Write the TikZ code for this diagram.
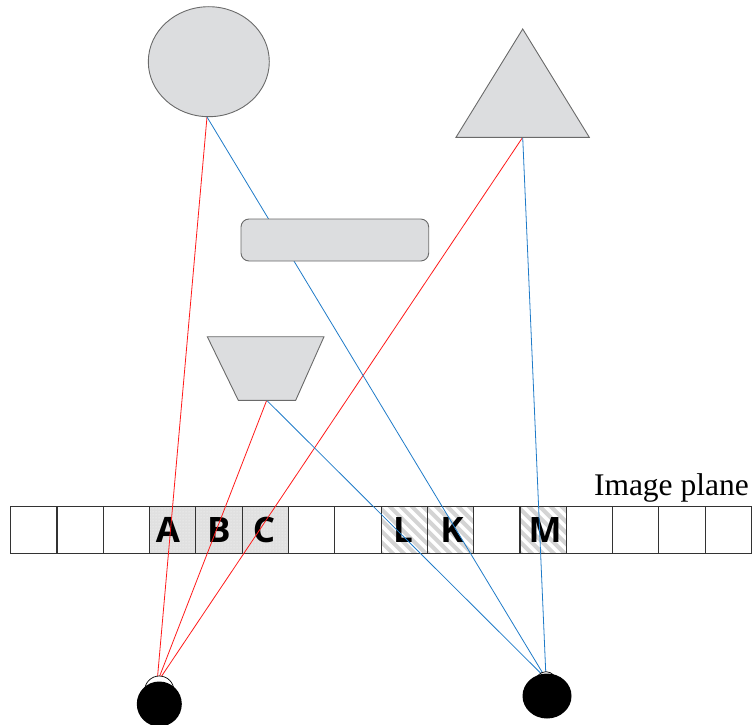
\documentclass[tikz,border=0pt]{standalone}
\usepackage{fontspec}
\usetikzlibrary{patterns,shapes.geometric}
\newfontfamily\labfont{Open Sans}
\newfontfamily\serfont{Liberation Serif}
\definecolor{shapefill}{HTML}{DCDDDF}
\definecolor{shapeedge}{HTML}{6A6A6A}
\definecolor{rayred}{HTML}{FF1A1A}
\definecolor{rayblue}{HTML}{1F7BC8}
\definecolor{dotbg}{HTML}{E0E0E0}
\definecolor{stripe}{HTML}{D4D4D4}
\begin{document}
\begin{tikzpicture}[x=1pt,y=-1pt,
  obj/.style={fill=shapefill,draw=shapeedge,line width=0.9pt},
  cellbox/.style={draw=black!80,line width=1.1pt},
  redray/.style={draw=rayred,line width=0.8pt},
  blueray/.style={draw=rayblue,line width=0.8pt},
  celllab/.style={font=\labfont\bfseries\fontsize{35}{35}\selectfont,inner sep=0pt,anchor=center},
  eyeball/.style={fill=black},
  eyelid/.style={draw=black,line width=0.7pt,fill=white}]
\useasboundingbox (0,0) rectangle (752,725);

% image plane cells
\def\cw{46.3}
\foreach \i in {3,4,5}{
  \fill[dotbg] ({10.7+\cw*\i},506.7) rectangle ++(\cw,46.6);
  \fill[pattern=dots,pattern color=white!85!dotbg] ({10.7+\cw*\i},506.7) rectangle ++(\cw,46.6);
}
\foreach \i in {8,9,11}{
  \begin{scope}
    \clip ({10.7+\cw*\i},506.7) rectangle ++(\cw,46.6);
    \foreach \k in {-6,...,10}{
      \draw[stripe,line width=4pt] ({10.7+\cw*\i+11*\k-50},506.7-4) -- ++(60,60);
    }
  \end{scope}
}
\foreach \i in {0,...,15}{
  \draw[cellbox] ({10.7+\cw*\i},506.7) rectangle ++(\cw,46.6);
}
\node[celllab] (A) at (168,530) {A};
\node[celllab] (B) at (219,530) {B};
\node[celllab] (C) at (264,530) {C};
\node[celllab] (L) at (403,530) {L};
\node[celllab] (K) at (452,530) {K};
\node[celllab] (M) at (545,530) {M};
\node[font=\serfont\fontsize{31.5}{32}\selectfont,anchor=base east,inner sep=0pt] (plane) at (749,495) {Image plane};

% key points
\coordinate (elb) at (207,117);
\coordinate (trb) at (522.7,137.3);
\coordinate (tzb) at (266.7,400.3);
\coordinate (eyeL) at (157,683);
\coordinate (eyeR) at (546,678.5);

% rays
\draw[redray] (elb) -- (eyeL);
\draw[redray] (tzb) -- (eyeL);
\draw[redray] (trb) -- (eyeL);
\draw[blueray] (elb) -- (eyeR);
\draw[blueray] (tzb) -- (eyeR);
\draw[blueray] (trb) -- (eyeR);

% objects
\node[obj,ellipse,minimum width=121pt,minimum height=110pt,inner sep=0pt] (ell) at (208.8,61.7) {};
\draw[obj] (522.7,29) -- (589.3,137.3) -- (456,137.3) -- cycle;
\draw[obj,rounded corners=8pt] (241,219) rectangle (428.7,261);
\draw[obj] (207.3,336.7) -- (324,336.7) -- (295.7,400.3) -- (238.3,400.3) -- cycle;

% eyes
\draw[eyelid] (159.3,690.6) circle[radius=14.6pt];
\fill[eyeball] (159.3,704) circle[radius=22.5pt];
\draw[eyelid] (546,681.8) circle[radius=10.1pt];
\fill[eyeball] (547,696) ellipse[x radius=24.5pt,y radius=22.5pt];
\end{tikzpicture}
\end{document}
